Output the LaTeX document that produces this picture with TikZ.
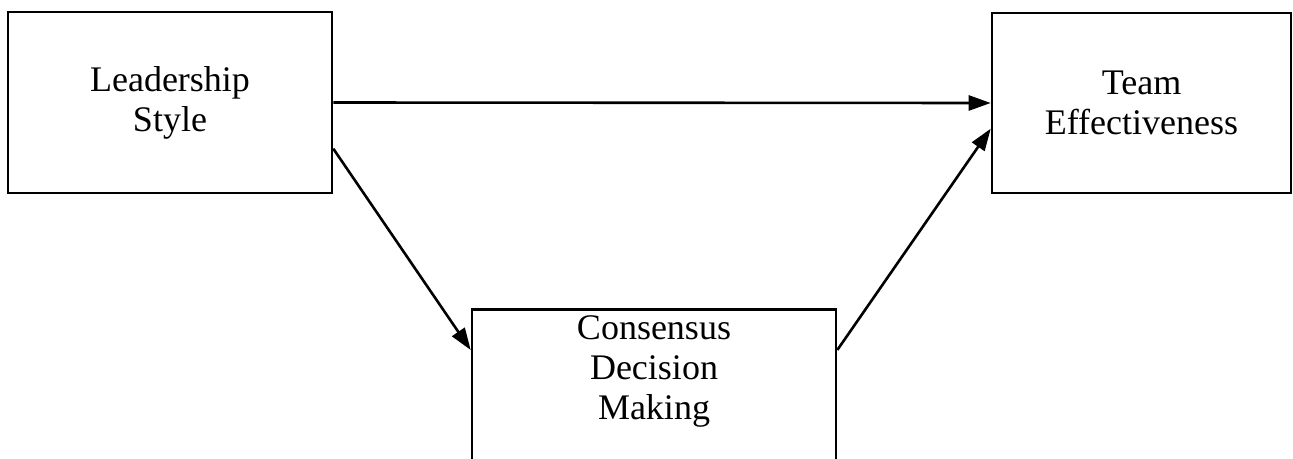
\documentclass[tikz,border=0pt]{standalone}
\usepackage{fontspec}
\setmainfont{Liberation Serif}
\usetikzlibrary{arrows.meta,calc}
\begin{document}
\begin{tikzpicture}[x=1pt,y=-1pt,
  label font/.style={font=\fontsize{36}{40}\selectfont},
  box/.style={draw,line width=2.6pt,inner sep=0pt,align=center,label font},
  link/.style={line width=2.6pt,-{Triangle[length=22pt,width=15pt]}}]
\useasboundingbox (0,0) rectangle (1293,458);
\clip (0,0) rectangle (1293,458);

% variables
\node[box,minimum width=324pt,minimum height=181pt] (ls) at (170,102.5) {Leadership\\Style};
\node[box,minimum width=299pt,minimum height=180pt] (te) at (1141.5,103) {Team\\Effectiveness};
\node[box,minimum width=364pt,minimum height=220pt,anchor=north] (cdm) at (654,308) {};
\node[label font,align=center,anchor=north,inner sep=0pt] (cdmtext) at (654,315) {Consensus\\Decision\\Making};

% paths
\draw[link] (ls.east) -- (te.west);
\draw[link] ($(ls.north east)+(0,138)$) -- ($(cdm.north west)+(0,42)$);
\draw[link] ($(cdm.north east)+(0,42)$) -- ($(te.north west)+(0,117)$);
\end{tikzpicture}
\end{document}
